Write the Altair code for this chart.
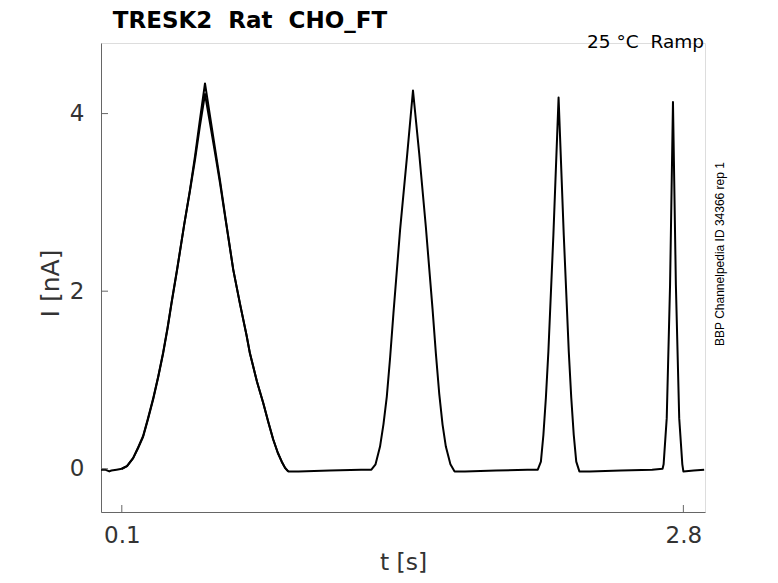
import altair as alt
import pandas as pd

# ---- data (t in s, I in nA) ----
t_rep1 = [0.000, 0.020, 0.040, 0.050, 0.075, 0.100,
          0.125, 0.1545, 0.180, 0.2025, 0.225, 0.2507, 0.275, 0.2988, 0.320, 0.339, 0.366,
          0.400, 0.427, 0.452, 0.475, 0.500,
          0.525, 0.548, 0.572, 0.600, 0.636, 0.668, 0.700, 0.716, 0.750, 0.780, 0.805,
          0.828, 0.850, 0.869, 0.885, 0.900,
          0.950, 1.100, 1.250, 1.300,
          1.320, 1.3416, 1.358, 1.374, 1.390, 1.406, 1.438, 1.471, 1.500,
          1.530, 1.562, 1.594, 1.610, 1.626, 1.642, 1.658, 1.680, 1.700,
          1.750, 1.900, 2.050, 2.100,
          2.115, 2.127, 2.139, 2.151, 2.175, 2.200,
          2.225, 2.249, 2.261, 2.273, 2.285, 2.300,
          2.350, 2.500, 2.650, 2.700,
          2.705, 2.720, 2.736, 2.750, 2.764, 2.780, 2.795, 2.800,
          2.850, 2.900]
i_rep1 = [-0.01, -0.01, -0.03, -0.02, -0.01, 0.00,
          0.03, 0.12, 0.24, 0.36, 0.55, 0.78, 1.03, 1.30, 1.58, 1.86, 2.24,
          2.75, 3.13, 3.52, 3.92, 4.34,
          3.96, 3.61, 3.25, 2.80, 2.24, 1.86, 1.50, 1.30, 0.98, 0.74, 0.52,
          0.33, 0.18, 0.08, 0.01, -0.03,
          -0.03, -0.02, -0.01, -0.01,
          0.05, 0.25, 0.50, 0.81, 1.25, 1.75, 2.69, 3.51, 4.26,
          3.55, 2.72, 1.80, 1.30, 0.85, 0.50, 0.25, 0.05, -0.03,
          -0.03, -0.02, -0.01, -0.01,
          0.08, 0.38, 0.80, 1.32, 2.63, 4.18,
          2.63, 1.32, 0.80, 0.38, 0.08, -0.03,
          -0.03, -0.02, -0.01, 0.00,
          0.05, 0.57, 2.07, 4.13, 2.07, 0.57, 0.05, -0.03,
          -0.02, -0.01]

# second overlaid sweep, visible (slightly lower tip) on the first ramp only
t_rep2 = [0.100, 0.125, 0.1545, 0.180, 0.2025, 0.225, 0.2507, 0.275, 0.2988, 0.320,
          0.339, 0.366, 0.400, 0.427, 0.452, 0.475, 0.500, 0.525, 0.548, 0.572,
          0.600, 0.636, 0.668, 0.700, 0.716, 0.750, 0.780, 0.805, 0.828, 0.850,
          0.869, 0.885, 0.900]
i_rep2 = [0.00, 0.03, 0.12, 0.25, 0.37, 0.56, 0.79, 1.04, 1.31, 1.59,
          1.87, 2.25, 2.75, 3.12, 3.48, 3.85, 4.22, 3.88, 3.56, 3.22,
          2.79, 2.24, 1.86, 1.50, 1.30, 0.98, 0.74, 0.52, 0.33, 0.18,
          0.08, 0.01, -0.03]

x_ticks = [0.1, 2.8]
y_ticks = [0, 2, 4]

NB = "\u00a0"
title_text = "TRESK2" + NB + " Rat" + NB + " CHO_FT"
cond_text = "25 °C" + NB + " Ramp"
side_text = "BBP Channelpedia ID 34366 rep 1"

W, H = 604, 469
X_DOMAIN = [0.0, 2.904]
Y_DOMAIN = [-0.487, 4.795]
FONT = "DejaVu Sans"

df = pd.concat([
    pd.DataFrame({"t": t_rep1, "I": i_rep1, "rep": "1"}),
    pd.DataFrame({"t": t_rep2, "I": i_rep2, "rep": "2"}),
])

xs = alt.Scale(domain=X_DOMAIN, nice=False, zero=False)
ys = alt.Scale(domain=Y_DOMAIN, nice=False, zero=False)

x_axis = alt.Axis(values=x_ticks, format=".1f", ticks=False, grid=False,
                  domainColor="#666666", labelFontSize=23, labelColor="#333333",
                  labelPadding=12, labelFont=FONT, title="t [s]",
                  titleFont=FONT, titleFontSize=23.5, titleFontWeight="normal",
                  titleColor="#333333", titleBaseline="alphabetic", titleY=57,
                  titleX=W / 2, titleAlign="center", labelFlush=False)
y_axis = alt.Axis(values=y_ticks, format="d", ticks=False, grid=False,
                  domainColor="#666666", labelFontSize=23, labelColor="#333333",
                  labelPadding=17, labelFont=FONT, title="I [nA]",
                  titleFont=FONT, titleFontSize=25, titleFontWeight="normal",
                  titleColor="#333333", titleAngle=270, titleBaseline="alphabetic",
                  titleX=-43, titleY=240, titleAlign="center", labelFlush=False)

lines = alt.Chart(df).mark_line(color="black", strokeWidth=2, strokeJoin="round").encode(
    x=alt.X("t:Q", scale=xs, axis=x_axis),
    y=alt.Y("I:Q", scale=ys, axis=y_axis),
    detail="rep:N",
    order="t:Q",
)

xt = alt.Chart(pd.DataFrame({"t": x_ticks})).mark_rule(color="#666666", strokeWidth=1).encode(
    x=alt.X("t:Q", scale=xs), y=alt.value(H), y2=alt.value(H - 7))
yt = alt.Chart(pd.DataFrame({"I": y_ticks})).mark_rule(color="#666666", strokeWidth=1).encode(
    y=alt.Y("I:Q", scale=ys), x=alt.value(0), x2=alt.value(7))

title = alt.Chart(pd.DataFrame({"s": [title_text]})).mark_text(
    font=FONT, fontSize=23, fontWeight="bold", color="black",
    align="left", baseline="alphabetic").encode(
    text="s:N", x=alt.value(11.8), y=alt.value(-15))
cond = alt.Chart(pd.DataFrame({"s": [cond_text]})).mark_text(
    font=FONT, fontSize=18.5, color="black",
    align="right", baseline="alphabetic").encode(
    text="s:N", x=alt.value(603), y=alt.value(4.5))
side = alt.Chart(pd.DataFrame({"s": [side_text]})).mark_text(
    font="Liberation Sans", fontSize=12, color="black", angle=270,
    align="center", baseline="alphabetic").encode(
    text="s:N", x=alt.value(623), y=alt.value(211))

chart = alt.layer(lines, xt, yt, title, cond, side).properties(
    width=W, height=H,
    autosize=alt.AutoSizeParams(type="none"),
    padding={"left": 93, "top": 35, "right": 65, "bottom": 63},
).configure_view(stroke=None).configure(background="white")

chart.save("out.html", embed_options={"renderer": "svg", "actions": False})
